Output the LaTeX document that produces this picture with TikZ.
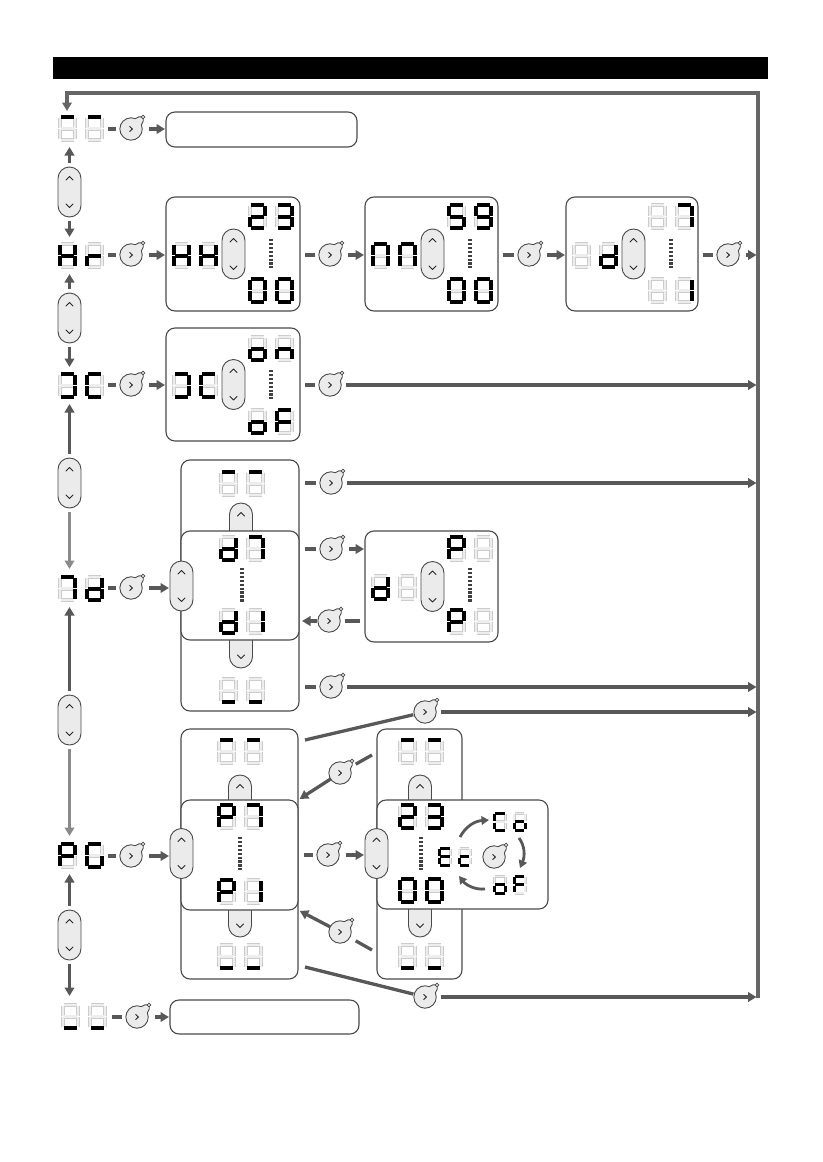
\documentclass[tikz,border=0pt]{standalone}
\usetikzlibrary{arrows.meta,calc}
\definecolor{cgray}{HTML}{585858}
\definecolor{lgray}{HTML}{8A8A8A}
\definecolor{fgray}{HTML}{666666}
\definecolor{segoffout}{HTML}{CCCCCC}
\definecolor{segofffill}{HTML}{EDEDED}
\definecolor{pillfill}{HTML}{EBEBEB}
\definecolor{edge}{HTML}{4A4A4A}
\tikzset{
 conn/.style={draw=cgray, line width=3.3pt},
 arr/.style={conn, -{Triangle[length=8.5pt,width=9.5pt]}},
 larr/.style={arr, draw=lgray},
 frame/.style={draw=fgray, line width=3.5pt},
 boxst/.style={draw=edge, line width=1.1pt, fill=white, rounded corners=9pt, inner sep=0pt, outer sep=0pt},
 pillst/.style={draw=edge, fill=pillfill, line width=0.9pt, rounded corners=11.5pt, minimum width=23pt, minimum height=50pt, inner sep=0pt, outer sep=0pt},
 chev/.style={draw=black!85, line width=0.9pt, line cap=round, line join=round},
 keyst/.style={draw=edge, fill=pillfill, line width=0.9pt},
 disp/.style={inner sep=0pt, outer sep=0pt},
 dots/.style={draw=black!75, line width=3.4pt, dash pattern=on 2.4pt off 1.5pt},
 segon/.style={draw=black, line width=4pt*\dsc},
 segoffA/.style={draw=segoffout, line width=4pt*\dsc},
 segoffB/.style={draw=segofffill, line width=2.3pt*\dsc},
}
\newcommand\segdraw[2]{%
 \if a#2\draw[#1] (3,2)--(16,2);\fi
 \if b#2\draw[#1] (17,3.2)--(17,12.6);\fi
 \if c#2\draw[#1] (17,14.4)--(17,23.8);\fi
 \if d#2\draw[#1] (3,25)--(16,25);\fi
 \if e#2\draw[#1] (2,14.4)--(2,23.8);\fi
 \if f#2\draw[#1] (2,3.2)--(2,12.6);\fi
 \if g#2\draw[#1] (3,13.5)--(16,13.5);\fi}
\newcommand\onedig[4]{%
 \def\dsc{#3}%
 \begin{scope}[shift={(#1,#2)},scale=#3]
  \foreach \s in {a,b,c,d,e,f,g}{\segdraw{segoffA}{\s}}
  \foreach \s in {a,b,c,d,e,f,g}{\segdraw{segoffB}{\s}}
  \foreach \s in {#4}{\segdraw{segon}{\s}}
 \end{scope}}
\newcommand\disp[6][1]{%
 \onedig{#3}{#4}{#1}{#5}%
 \onedig{#3+27*#1}{#4}{#1}{#6}%
 \node[disp, minimum width=46*#1, minimum height=27*#1] (#2) at ({#3+23*#1},{#4+13.5*#1}) {};}
\newcommand\boxnode[5]{\node[boxst, minimum width={#4-#2}, minimum height={#5-#3}] (#1) at ({(#2+#4)/2},{(#3+#5)/2}) {};}
\newcommand\pillud[3]{\node[pillst] (#1) at (#2,#3) {};
 \draw[chev] ([shift={(-3.5,13)}]#1.north) -- ([shift={(0,9.5)}]#1.north) -- ([shift={(3.5,13)}]#1.north);
 \draw[chev] ([shift={(-3.5,-13)}]#1.south) -- ([shift={(0,-9.5)}]#1.south) -- ([shift={(3.5,-13)}]#1.south);}
\newcommand\tabup[3]{\node[pillst, minimum height=44pt] (#1) at (#2,#3) {};
 \draw[chev] ([shift={(-3.5,13)}]#1.north) -- ([shift={(0,9.5)}]#1.north) -- ([shift={(3.5,13)}]#1.north);}
\newcommand\tabdown[3]{\node[pillst, minimum height=44pt] (#1) at (#2,#3) {};
 \draw[chev] ([shift={(-3.5,-13)}]#1.south) -- ([shift={(0,-9.5)}]#1.south) -- ([shift={(3.5,-13)}]#1.south);}
\newcommand\keyicon[3]{%
 \node[circle, inner sep=0pt, outer sep=0pt, minimum size=22pt] (#1) at (#2,#3) {};
 \begin{scope}[shift={(#2,#3)}]
  \filldraw[keyst] (10.4,-4.3) arc[start angle=-22.5, end angle=292.5, radius=11.2] .. controls (6,-12) and (9.5,-13) .. (12.2,-12.2) .. controls (13,-9.5) and (12,-6) .. (10.4,-4.3) -- cycle;
  \filldraw[keyst, line width=0.7pt] (12,-12) circle (1.8);
  \draw[chev] (-1.3,-2.6) -- (1.4,0) -- (-1.3,2.6);
 \end{scope}}
\begin{document}
\begin{tikzpicture}[x=1pt,y=-1pt]
\useasboundingbox (0,0) rectangle (822,1162);
\fill[black] (53,57) rectangle (768,79);
% frame
\coordinate (ftl) at (67,93);
\coordinate (ftr) at (758,93);
\coordinate (fbr) at (758,998);
\coordinate (fin) at (67,111);
\draw[frame, -{Triangle[length=8.5pt,width=9.5pt]}] (fbr) -- (ftr) -- (ftl) -- (fin);

% left column
\disp{L1}{58}{115}{a}{a}
\disp{L2}{58}{242}{b,c,e,f,g}{e,g}
\disp{L3}{58}{372}{a,b,c,d}{a,d,e,f}
\disp{L4}{58}{575}{a,b,c}{b,c,d,e,g}
\disp{L5}{58}{842}{a,b,e,f,g}{a,c,d,e,f}
\disp{L6}{61}{1003}{d}{d}
\pillud{p1}{69.5}{192}
\pillud{p2}{69.5}{318}
\pillud{p3}{69.5}{483}
\pillud{p4}{69.5}{720}
\pillud{p5}{69.5}{935}
\draw[arr, shorten <=4pt, shorten >=5pt] (p1.north) -- (p1.north |- L1.south);
\draw[arr, shorten <=4pt, shorten >=5pt] (p1.south) -- (p1.south |- L2.north);
\draw[arr, shorten <=4pt, shorten >=5pt] (p2.north) -- (p2.north |- L2.south);
\draw[arr, shorten <=4pt, shorten >=5pt] (p2.south) -- (p2.south |- L3.north);
\draw[arr, shorten <=4pt, shorten >=5pt] (p3.north) -- (p3.north |- L3.south);
\draw[larr, shorten <=4pt, shorten >=6pt] (p3.south) -- (p3.south |- L4.north);
\draw[arr, shorten <=4pt, shorten >=5pt] (p4.north) -- (p4.north |- L4.south);
\draw[larr, shorten <=4pt, shorten >=6pt] (p4.south) -- (p4.south |- L5.north);
\draw[arr, shorten <=4pt, shorten >=5pt] (p5.north) -- (p5.north |- L5.south);
\draw[arr, shorten <=4pt, shorten >=7pt] (p5.south) -- (p5.south |- L6.north);

% keys in left column
\keyicon{k1}{131}{129}
\keyicon{k2}{131}{255}
\keyicon{k6}{131}{385}
\keyicon{k8}{131}{588}
\keyicon{k13}{131}{856}
\keyicon{k20}{137}{1017}

% row 1
\boxnode{B1}{166}{112}{357}{147}
\draw[conn, shorten <=4pt, shorten >=4pt] (L1.east |- k1) -- (k1.west);
\draw[arr, shorten <=7pt, shorten >=1pt] (k1.east) -- (k1.east -| B1.west);

% row Hr
\boxnode{B2}{166}{197}{300}{311}
\disp{HH}{172}{242}{b,c,e,f,g}{b,c,e,f,g}
\pillud{pb2}{233.5}{254}
\disp{B2t}{248}{203}{a,b,g,e,d}{a,b,g,c,d}
\disp{B2b}{248}{277}{a,b,c,d,e,f}{a,b,c,d,e,f}
\draw[dots, shorten <=9pt, shorten >=9pt] (B2t.south) -- (B2b.north);
\keyicon{k3}{330}{255}
\boxnode{B3}{365}{197}{498}{311}
\disp{NN}{371}{242}{a,b,c,e,f}{a,b,c,e,f}
\pillud{pb3}{432.5}{254}
\disp{B3t}{447}{203}{a,f,g,c,d}{a,b,c,d,f,g}
\disp{B3b}{447}{277}{a,b,c,d,e,f}{a,b,c,d,e,f}
\draw[dots, shorten <=9pt, shorten >=9pt] (B3t.south) -- (B3b.north);
\keyicon{k4}{529}{255}
\boxnode{B4}{566}{197}{698}{311}
\disp{DD}{572}{242}{n}{b,c,d,e,g}
\pillud{pb4}{633.5}{254}
\disp{B4t}{648}{203}{n}{a,b,c}
\disp{B4b}{648}{277}{n}{b,c}
\draw[dots, shorten <=9pt, shorten >=9pt] (B4t.south) -- (B4b.north);
\keyicon{k5}{728}{255}
\draw[conn, shorten <=4pt, shorten >=4pt] (L2.east |- k2) -- (k2.west);
\draw[arr, shorten <=7pt, shorten >=1pt] (k2.east) -- (k2.east -| B2.west);
\draw[conn, shorten <=5pt, shorten >=4pt] (k3.west -| B2.east) -- (k3.west);
\draw[arr, shorten <=7pt, shorten >=1pt] (k3.east) -- (k3.east -| B3.west);
\draw[conn, shorten <=5pt, shorten >=4pt] (k4.west -| B3.east) -- (k4.west);
\draw[arr, shorten <=7pt, shorten >=1pt] (k4.east) -- (k4.east -| B4.west);
\draw[conn, shorten <=5pt, shorten >=4pt] (k5.west -| B4.east) -- (k5.west);
\draw[arr, shorten <=7pt, shorten >=1.5pt] (k5.east) -- (k5.east -| ftr);

% row 3C
\boxnode{B5}{166}{328}{300}{441}
\disp{DC}{172}{372}{a,b,c,d}{a,d,e,f}
\pillud{pb5}{233.5}{384.5}
\disp{B5t}{248}{335}{c,d,e,g}{c,e,g}
\disp{B5b}{248}{408}{c,d,e,g}{a,e,f,g}
\draw[dots, shorten <=8pt, shorten >=9pt] (B5t.south) -- (B5b.north);
\keyicon{k7}{330}{385}
\draw[conn, shorten <=4pt, shorten >=4pt] (L3.east |- k6) -- (k6.west);
\draw[arr, shorten <=7pt, shorten >=1pt] (k6.east) -- (k6.east -| B5.west);
\draw[conn, shorten <=5pt, shorten >=4pt] (k7.west -| B5.east) -- (k7.west);
\draw[arr, shorten <=5pt, shorten >=1.5pt] (k7.east) -- (k7.east -| ftr);

% row 7d
\boxnode{T1}{181}{460}{299}{711}
\disp{T1t}{219}{470}{a}{a}
\disp{T1b}{219}{677}{d}{d}
\tabup{tu1}{241}{525}
\tabdown{td1}{241}{646}
\boxnode{M1}{181}{531}{299}{640}
\disp{M1t}{219}{535}{b,c,d,e,g}{a,b,c}
\disp{M1b}{219}{608}{b,c,d,e,g}{b,c}
\draw[dots, shorten <=6pt, shorten >=6pt] (M1t.south) -- (M1b.north);
\pillud{pl7}{181.5}{586}
\boxnode{B6}{365}{531}{498}{642}
\disp{D1}{371}{574}{b,c,d,e,g}{n}
\pillud{pb6}{432.5}{586.5}
\disp{B6t}{447}{535}{a,b,e,f,g}{n}
\disp{B6b}{447}{608}{a,b,e,f,g}{n}
\draw[dots, shorten <=6pt, shorten >=6pt] (B6t.south) -- (B6b.north);
\keyicon{k9}{331}{483}
\keyicon{k10}{331}{549}
\keyicon{k11}{329}{621}
\keyicon{k12}{331}{687}
\draw[conn, shorten <=4pt, shorten >=4pt] (L4.east |- k8) -- (k8.west);
\draw[arr, shorten <=7pt, shorten >=1pt] (k8.east) -- (k8.east -| pl7.west);
\draw[conn, shorten <=6pt, shorten >=4pt] (k9.west -| T1.east) -- (k9.west);
\draw[arr, shorten <=5pt, shorten >=1.5pt] (k9.east) -- (k9.east -| ftr);
\draw[conn, shorten <=6pt, shorten >=4pt] (k10.west -| M1.east) -- (k10.west);
\draw[arr, shorten <=7pt, shorten >=1pt] (k10.east) -- (k10.east -| B6.west);
\draw[conn, shorten <=5pt, shorten >=5pt] (k11.east -| B6.west) -- (k11.east);
\draw[arr, shorten <=1pt, shorten >=3pt] (k11.west) -- (k11.west -| M1.east);
\draw[conn, shorten <=6pt, shorten >=4pt] (k12.west -| T1.east) -- (k12.west);
\draw[arr, shorten <=5pt, shorten >=1.5pt] (k12.east) -- (k12.east -| ftr);

% row PG left structure
\boxnode{T2}{181}{729}{298}{979}
\disp{T2t}{217}{738}{a}{a}
\disp{T2b}{217}{943}{d}{d}
\tabup{tu2}{240}{797}
\tabdown{td2}{240}{915}
\boxnode{M2}{181}{800}{298}{910}
\disp{M2t}{217}{803}{a,b,e,f,g}{a,b,c}
\disp{M2b}{217}{878}{a,b,e,f,g}{b,c}
\draw[dots, shorten <=7pt, shorten >=8pt] (M2t.south) -- (M2b.north);
\pillud{pl8}{181.5}{853.5}
% right structure
\boxnode{T3}{377}{729}{462}{979}
\disp{T3t}{398}{738}{a}{a}
\disp{T3b}{398}{943}{d}{d}
\tabup{tu3}{420}{797}
\tabdown{td3}{420}{915}
\boxnode{M3}{377}{800}{548}{909}
\disp{M3t}{398}{803}{a,b,g,e,d}{a,b,g,c,d}
\disp{M3b}{398}{877}{a,b,c,d,e,f}{a,b,c,d,e,f}
\draw[dots, shorten <=7pt, shorten >=7pt] (M3t.south) -- (M3b.north);
\disp[0.73]{ecD}{438}{847}{a,d,e,f,g}{d,e,g}
\disp[0.73]{coD}{493}{812}{a,d,e,f}{c,d,e,g}
\disp[0.73]{ofD}{493}{875}{c,d,e,g}{a,e,f,g}
\keyicon{k14}{494}{857}
\coordinate (c1) at (460,837);
\coordinate (c2) at (489,820);
\coordinate (c3) at (519,838);
\coordinate (c4) at (520,868);
\coordinate (c5) at (485,889);
\coordinate (c6) at (459,876);
\draw[conn, line width=2.8pt, -{Triangle[length=7.5pt,width=8.5pt]}] (c1) .. controls (466,826) and (475,821) .. (c2);
\draw[conn, line width=2.8pt, -{Triangle[length=7.5pt,width=8.5pt]}] (c3) .. controls (525,846) and (525,856) .. (c4);
\draw[conn, line width=2.8pt, -{Triangle[length=7.5pt,width=8.5pt]}] (c5) .. controls (475,890) and (466,885) .. (c6);
\pillud{pr8}{376.5}{853.5}
% PG connectors
\keyicon{k15}{328}{855}
\keyicon{k16}{425}{712}
\keyicon{k17}{340}{773}
\keyicon{k18}{340}{932}
\keyicon{k19}{425}{997}
\draw[conn, shorten <=4pt, shorten >=4pt] (L5.east |- k13) -- (k13.west);
\draw[arr, shorten <=7pt, shorten >=1pt] (k13.east) -- (k13.east -| pl8.west);
\draw[conn, shorten <=6pt, shorten >=4pt] (k15.west -| M2.east) -- (k15.west);
\draw[arr, shorten <=7pt, shorten >=1pt] (k15.east) -- (k15.east -| pr8.west);
\coordinate (s1) at (305,740);
\coordinate (s2) at (372,755);
\coordinate (s3) at (372,950);
\coordinate (s4) at (305,967);
\draw[conn, shorten >=1pt] (s1) -- (k16);
\draw[arr, shorten <=5pt, shorten >=1.5pt] (k16.east) -- (k16.east -| ftr);
\draw[conn, shorten >=7pt] (s2) -- (k17);
\draw[arr, shorten >=2pt] (k17) -- (M2.north east);
\draw[conn, shorten >=7pt] (s3) -- (k18);
\draw[arr, shorten >=2pt] (k18) -- (M2.south east);
\draw[conn, shorten >=1pt] (s4) -- (k19);
\draw[arr, shorten <=5pt, shorten >=1.5pt] (k19.east) -- (k19.east -| ftr);

% bottom row
\boxnode{B7}{170}{1000}{359}{1034}
\draw[conn, shorten <=5pt, shorten >=4pt] (L6.east |- k20) -- (k20.west);
\draw[arr, shorten <=7pt, shorten >=1pt] (k20.east) -- (k20.east -| B7.west);
\end{tikzpicture}
\end{document}
